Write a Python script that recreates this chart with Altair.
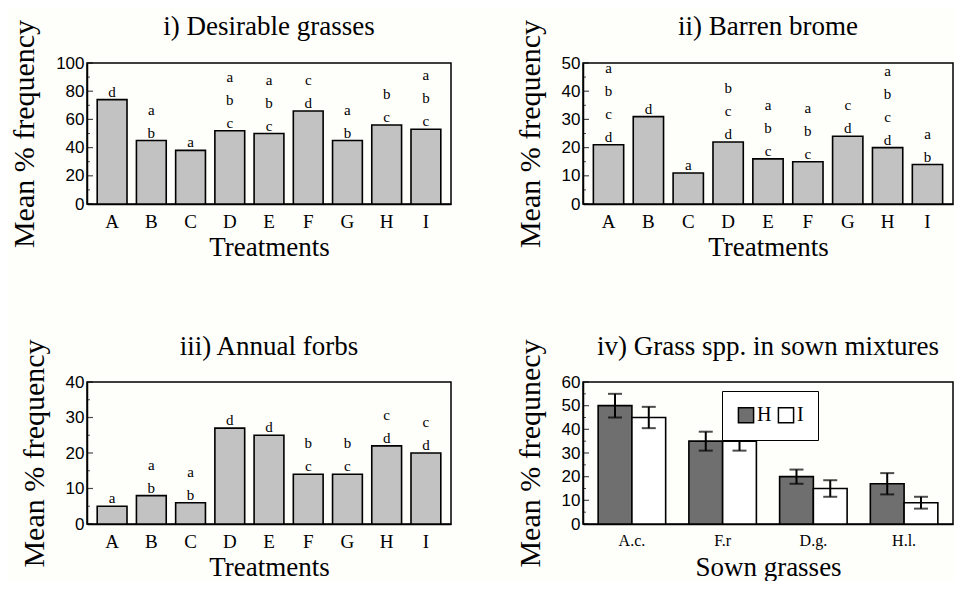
import altair as alt
import pandas as pd

SERIF = "Liberation Serif"
SANS = "Liberation Sans"

treatments = ["A", "B", "C", "D", "E", "F", "G", "H", "I"]

desirable = [74, 45, 38, 52, 50, 66, 45, 56, 53]
desirable_letters = ["d", "ab", "a", "abc", "abc", "cd", "ab", "bc", "abc"]

brome = [21, 31, 11, 22, 16, 15, 24, 20, 14]
brome_letters = ["abcd", "d", "a", "bcd", "abc", "abc", "cd", "abcd", "ab"]

forbs = [5, 8, 6, 27, 25, 14, 14, 22, 20]
forbs_letters = ["a", "ab", "ab", "d", "d", "bc", "bc", "cd", "cd"]

grasses = ["A.c.", "F.r", "D.g.", "H.l."]
mix_series = ["H", "I"]
mix_H = [50, 35, 20, 17]
mix_H_err = [5, 4, 3, 4.5]
mix_I = [45, 35, 15, 9]
mix_I_err = [4.5, 4, 3.5, 2.5]

YTITLE = "Mean % frequency"
LETTER_STEP_PX = 23

COL1_W, COL2_W = 364, 370
ROW1_H, ROW2_H = 141, 142
COL_SP, ROW_SP = 132, 178


def y_axis(ymax, step, title):
    return alt.Axis(
        values=list(range(0, ymax + 1, step)),
        title=title,
        titleFont=SERIF, titleFontSize=30, titleFontWeight="normal", titleColor="black",
        labelFont=SANS, labelFontSize=17, labelColor="black",
        ticks=False, labelPadding=3, titlePadding=16,
        domainColor="black", domainWidth=1.5, grid=False,
    )


def x_axis(title, label_size=19, title_pad=3):
    return alt.Axis(
        title=title, labelAngle=0, ticks=False,
        labelFont=SERIF, labelFontSize=label_size, labelColor="black", labelPadding=8,
        titleFont=SERIF, titleFontSize=27, titleFontWeight="normal", titleColor="black",
        titlePadding=title_pad, domainColor="black", domainWidth=1.5,
    )


def panel_title(text):
    return alt.Title(text, font=SERIF, fontSize=27, fontWeight="normal", color="black",
                     frame="group", anchor="middle", offset=-22)


def inner_ticks(ymax, step, yax):
    major = pd.DataFrame({"v": list(range(0, ymax + 1, step))})
    minor = pd.DataFrame({"v": [s + step / 2 for s in range(0, ymax, step)]})
    yenc = alt.Y("v:Q", scale=alt.Scale(domain=[0, ymax], nice=False), axis=yax)
    t1 = alt.Chart(major).mark_tick(orient="horizontal", size=6, thickness=1.2, color="black").encode(
        y=yenc, x=alt.value(3))
    t2 = alt.Chart(minor).mark_tick(orient="horizontal", size=3, thickness=1, color="black").encode(
        y=yenc, x=alt.value(1.5))
    return [t1, t2]


def bar_panel(title, values, letters, ymax, step, width, height):
    df = pd.DataFrame({"t": treatments, "v": values})
    rows = []
    for t, v, ls in zip(treatments, values, letters):
        n = len(ls)
        for i, ch in enumerate(ls):
            rows.append({"t": t, "v": v, "letter": ch, "k": n - 1 - i})
    ldf = pd.DataFrame(rows)
    px_per_unit = height / ymax
    yax = y_axis(ymax, step, YTITLE)
    xenc = alt.X("t:N", sort=treatments,
                 scale=alt.Scale(paddingInner=0.24, paddingOuter=0.26),
                 axis=x_axis("Treatments"))
    bars = alt.Chart(df).mark_bar(fill="#c2c2c2", stroke="black", strokeWidth=1.6).encode(
        x=xenc,
        y=alt.Y("v:Q", scale=alt.Scale(domain=[0, ymax], nice=False), axis=yax),
    )
    lab = alt.Chart(ldf).transform_calculate(
        ly=f"datum.v + (datum.k * {LETTER_STEP_PX} + 3) / {px_per_unit}"
    ).mark_text(font=SERIF, fontSize=15, baseline="alphabetic", fill="black", color="black").encode(
        x=xenc,
        y=alt.Y("ly:Q", scale=alt.Scale(domain=[0, ymax], nice=False), axis=yax),
        text="letter:N",
    )
    return alt.layer(bars, lab, *inner_ticks(ymax, step, yax)).properties(
        width=width, height=height, title=panel_title(title))


p1 = bar_panel("i) Desirable grasses", desirable, desirable_letters, 100, 20, COL1_W, ROW1_H)
p2 = bar_panel("ii) Barren brome", brome, brome_letters, 50, 10, COL2_W, ROW1_H)
p3 = bar_panel("iii) Annual forbs", forbs, forbs_letters, 40, 10, COL1_W, ROW2_H)

# Panel iv
df4 = pd.DataFrame({
    "g": grasses * 2,
    "s": ["H"] * 4 + ["I"] * 4,
    "v": mix_H + mix_I,
    "e": mix_H_err + mix_I_err,
})
yax4 = y_axis(60, 10, "Mean % frequnecy")
x4 = alt.X("g:N", sort=grasses, scale=alt.Scale(paddingInner=0.256, paddingOuter=0.167),
           axis=x_axis("Sown grasses", label_size=16, title_pad=6))
xo4 = alt.XOffset("s:N", sort=mix_series, scale=alt.Scale(paddingInner=0, paddingOuter=0))
yscale4 = alt.Scale(domain=[0, 60], nice=False)

bars4 = alt.Chart(df4).mark_bar(stroke="black", strokeWidth=1.6).encode(
    x=x4, xOffset=xo4,
    y=alt.Y("v:Q", scale=yscale4, axis=yax4),
    fill=alt.Fill("s:N", scale=alt.Scale(domain=mix_series, range=["#6f6f6f", "white"]),
                  legend=alt.Legend(
                      title=None, orient="none",
                      legendX=COL1_W + COL_SP + 139, legendY=ROW1_H + ROW_SP + 9,
                      direction="horizontal", symbolType="square", symbolSize=230,
                      symbolStrokeColor="black", symbolStrokeWidth=1.5,
                      labelFont=SERIF, labelFontSize=20, labelColor="black",
                      labelOffset=1, columnPadding=3, padding=14,
                      strokeColor="black", fillColor="white")),
)
err_base = alt.Chart(df4).transform_calculate(lo="datum.v - datum.e", hi="datum.v + datum.e")
err4 = err_base.mark_rule(strokeWidth=2, color="black").encode(
    x=x4, xOffset=xo4,
    y=alt.Y("lo:Q", scale=yscale4, axis=yax4), y2="hi:Q")
cap_hi = err_base.mark_tick(orient="horizontal", size=14, thickness=2, color="black").encode(
    x=x4, xOffset=xo4, y=alt.Y("hi:Q", scale=yscale4, axis=yax4))
cap_lo = err_base.mark_tick(orient="horizontal", size=14, thickness=2, color="black").encode(
    x=x4, xOffset=xo4, y=alt.Y("lo:Q", scale=yscale4, axis=yax4))

p4 = alt.layer(bars4, err4, cap_hi, cap_lo, *inner_ticks(60, 10, yax4)).properties(
    width=COL2_W, height=ROW2_H, title=panel_title("iv) Grass spp. in sown mixtures"))

chart = alt.concat(
    p1, p2, p3, p4, columns=2,
    spacing={"row": ROW_SP, "column": COL_SP}, bounds="flush",
).properties(
    padding={"left": 0, "top": 4, "right": 0, "bottom": 0},
    background="#fefefb",
).configure_view(stroke="black", strokeWidth=1.5)

chart.save("out.html", embed_options={"renderer": "svg", "actions": False})
